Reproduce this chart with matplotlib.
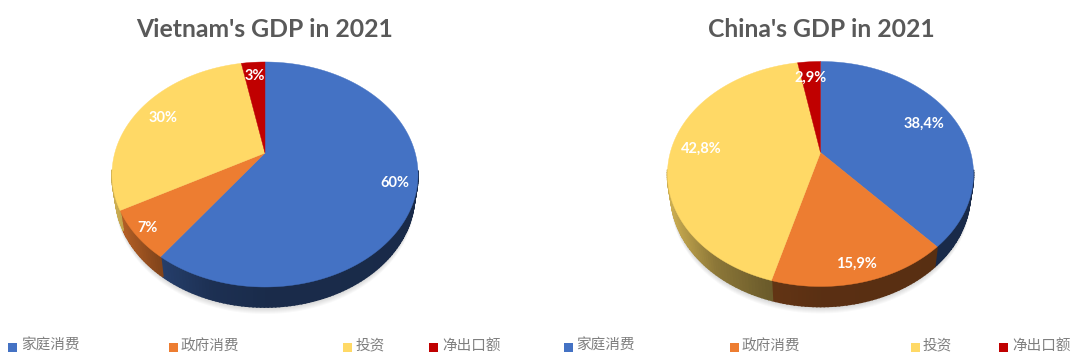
import matplotlib
matplotlib.use("Agg")
import matplotlib.pyplot as plt
import numpy as np

# Data
categories = ["家庭消费", "政府消费", "投资", "净出口额"]
vietnam_values = [60, 7, 30, 3]
china_values = [38.4, 15.9, 42.8, 2.9]
vietnam_labels = ["60%", "7%", "30%", "3%"]
china_labels = ["38,4%", "15,9%", "42,8%", "2,9%"]
titles = ["Vietnam's GDP in 2021", "China's GDP in 2021"]

colors = ["#4472C4", "#ED7D31", "#FFD966", "#C00000"]

# Perspective of the tilted pie, in pixels
tilt = 0.191
size_x = 150.2
size_y = 108.4
depth = 20
base_scale = 0.978  # lower face looks a little narrower than the top one


def project(r, frac, cx, cy):
    # fraction clockwise from 12 o'clock -> picture position
    a = 2 * np.pi * np.asarray(frac)
    u = r * np.sin(a)
    v = r * np.cos(a)
    w = 1 + tilt * v
    return cx + size_x * u / w, cy - size_y * v / w


def side_shade(t):
    # the side is lit from the far left and dark towards the middle
    return np.interp(t, [-1.0, -0.7, -0.35, 0.0, 1.0], [0.8, 0.55, 0.42, 0.38, 0.37])


def draw_pie(ax, values, labels, label_r, cx, cy):
    fracs = np.array(values) / sum(values)
    edges = np.concatenate([[0], np.cumsum(fracs)])

    # soft shadow under the pie
    ring = np.linspace(0, 1, 240)
    rx, ry = project(1, ring, cx, cy)
    rx = cx + (rx - cx) * base_scale
    for d in range(1, 8):
        ax.fill(rx, ry + depth + d, color="black", alpha=0.022, lw=0, zorder=1)

    # side wall, front part only
    for i in range(len(values)):
        steps = np.linspace(edges[i], edges[i + 1], max(2, int(fracs[i] * 300) + 2))
        for f0, f1 in zip(steps[:-1], steps[1:]):
            if np.cos(2 * np.pi * (f0 + f1) / 2) > -0.15:
                continue
            x0, y0 = project(1, f0, cx, cy)
            x1, y1 = project(1, f1, cx, cy)
            bx0 = cx + (x0 - cx) * base_scale
            bx1 = cx + (x1 - cx) * base_scale
            shade = float(side_shade(((x0 + x1) / 2 - cx) / 153))
            rgb = np.array(matplotlib.colors.to_rgb(colors[i])) * shade
            ax.fill([x0, x1, bx1, bx0], [y0, y1, y1 + depth, y0 + depth],
                    color=tuple(rgb), lw=1.2, zorder=2)

    # top face
    for i in range(len(values)):
        arc = np.linspace(edges[i], edges[i + 1], max(2, int(fracs[i] * 360) + 2))
        ax_, ay_ = project(1, arc, cx, cy)
        ax.fill(np.r_[cx, ax_], np.r_[cy, ay_], color=colors[i], lw=0.3, zorder=3)

    # data labels
    mids = (edges[:-1] + edges[1:]) / 2
    for m, lab, r in zip(mids, labels, label_r):
        lx, ly = project(r, m, cx, cy)
        ax.text(lx, ly, lab, color="white", fontsize=10.5, fontweight="bold",
                family="Lato", ha="center", va="center", zorder=4)


def draw_legend(ax, square_x, text_x):
    for name, color, sx, tx in zip(categories, colors, square_x, text_x):
        ax.fill([sx, sx + 9, sx + 9, sx], [343, 343, 352, 352], color=color, lw=0)
        ax.text(tx, 349.5, name, color="#7F7F7F", fontsize=10.5,
                family=["Noto Sans CJK SC", "DejaVu Sans"], ha="left", va="baseline")


fig = plt.figure(figsize=(10.8, 3.59), dpi=100)
ax = fig.add_axes([0, 0, 1, 1])
ax.set_xlim(0, 1080)
ax.set_ylim(359, 0)
ax.axis("off")

draw_pie(ax, vietnam_values, vietnam_labels, [0.86, 0.92, 0.80, 0.82], 265, 153)
draw_pie(ax, china_values, china_labels, [0.78, 0.88, 0.80, 0.80], 820.5, 152.5)

ax.text(265, 29.5, titles[0], color="#595959", fontsize=17.8, fontweight="bold",
        family="Lato", ha="center", va="center")
ax.text(821, 29.5, titles[1], color="#595959", fontsize=17.8, fontweight="bold",
        family="Lato", ha="center", va="center")

draw_legend(ax, [8, 169, 343, 429], [21, 181, 356, 442])
draw_legend(ax, [564, 730, 911, 999], [576, 742, 923, 1012])

fig.savefig("out.png", dpi=100)
